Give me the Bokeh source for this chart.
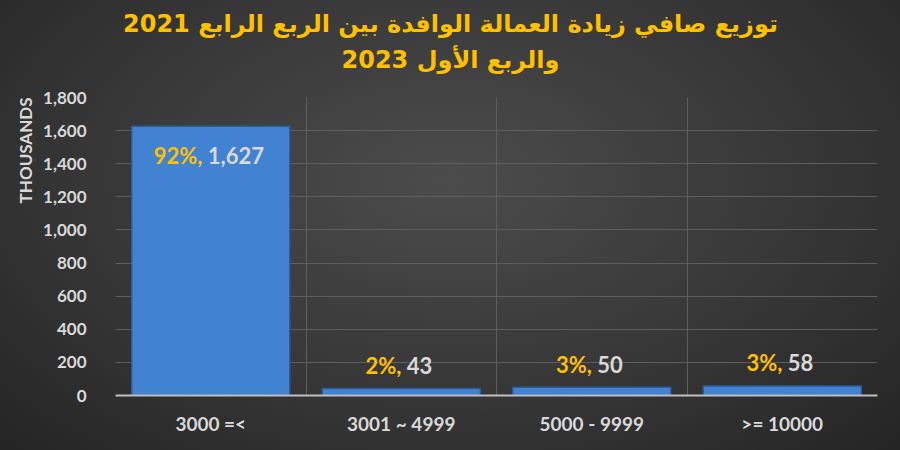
from bokeh.plotting import figure
from bokeh.models import ColumnDataSource, FixedTicker, Title, InlineStyleSheet, NumeralTickFormatter
from bokeh.core.properties import value
from bokeh.embed import file_html
from bokeh.resources import INLINE

# Net increase of expatriate workers by wage band (thousands)
categories = ["3000 =<", "3001 ~ 4999", "5000 - 9999", ">= 10000"]
workers = [1627, 43, 50, 58]
shares = [92, 2, 3, 3]
y_ticks = [0, 200, 400, 600, 800, 1000, 1200, 1400, 1600, 1800]

title_line1 = "توزيع صافي زيادة العمالة الوافدة بين الربع الرابع 2021"
title_line2 = "والربع الأول 2023"

GOLD = "#FFC000"
LIGHT = "#D9D9D9"
FONT = "Lato"

W, H = 900, 450
LEFT, RIGHT = 115, 23

xs = list(range(len(categories)))
pct_txt = [f"{s}%, " for s in shares]
val_txt = [f"{v:,}" for v in workers]

# label sits inside the tall bar, above the short ones
inside = [v > 300 for v in workers]
y_off = [29 if i else -23 for i in inside]

# approximate text widths so the two-colour label is centred on the bar
def text_w(s):
    w = 0
    for ch in s:
        if ch.isdigit():
            w += 12
        elif ch == "%":
            w += 19
        else:
            w += 5
    return w

x_off = [(text_w(a) - text_w(b)) / 2 - 3 for a, b in zip(pct_txt, val_txt)]

src = ColumnDataSource(dict(x=xs, top=workers, pct=pct_txt, val=val_txt,
                            yo=y_off, xo=x_off))

p = figure(width=W, height=H, output_backend="svg", toolbar_location=None,
           x_range=(-0.5, len(categories) - 0.5), y_range=(0, 1800),
           min_border_left=LEFT, min_border_right=RIGHT, min_border_bottom=55,
           min_border_top=97, title=None)

# gap between the frame and the title block
p.add_layout(Title(text=" ", text_font_size="1px", standoff=21), "above")

# two-line title centred on the whole canvas (approx. rendered widths)
for txt, tw, so in ((title_line2, 218, 0), (title_line1, 655, 12)):
    p.add_layout(Title(text=txt, align="left", offset=W / 2 - LEFT - tw / 2,
                       text_color=GOLD, text_font="DejaVu Sans",
                       text_font_size="24px", text_font_style="bold",
                       standoff=so), "above")

p.background_fill_alpha = 0
p.border_fill_alpha = 0
p.outline_line_color = None
p.stylesheets = [InlineStyleSheet(css=":host { background: radial-gradient(ellipse 75% 90% at 50% 40%, #4c4c4c 0%, #363636 55%, #222222 100%); }")]

p.vbar(x="x", top="top", width=0.83, source=src, fill_color="#4282D3",
       line_color="#2C5B96", line_width=1.5)

p.text(x="x", y="top", text="pct", source=src, x_offset="xo", y_offset="yo",
       text_align="right", text_baseline="middle", text_color=GOLD,
       text_font=value(FONT), text_font_style="bold", text_font_size="22px")
p.text(x="x", y="top", text="val", source=src, x_offset="xo", y_offset="yo",
       text_align="left", text_baseline="middle", text_color=LIGHT,
       text_font=value(FONT), text_font_style="bold", text_font_size="22px")

# axes
p.xaxis.ticker = FixedTicker(ticks=xs)
p.xaxis.major_label_overrides = {i: c for i, c in enumerate(categories)}
p.xaxis.major_label_text_font = FONT
p.xaxis.major_label_text_font_style = "bold"
p.xaxis.major_label_text_font_size = "19px"
p.xaxis.major_label_text_color = LIGHT
p.xaxis.major_label_standoff = 10
p.xaxis.major_tick_line_color = None
p.xaxis.minor_tick_line_color = None
p.xaxis.axis_line_color = "#BFBFBF"
p.xaxis.axis_line_width = 2

p.yaxis.ticker = FixedTicker(ticks=y_ticks)
p.yaxis.formatter = NumeralTickFormatter(format="0,0")
p.yaxis.major_label_text_font = FONT
p.yaxis.major_label_text_font_style = "bold"
p.yaxis.major_label_text_font_size = "17px"
p.yaxis.major_label_text_color = LIGHT
p.yaxis.major_label_standoff = 23
p.yaxis.major_tick_line_color = None
p.yaxis.minor_tick_line_color = None
p.yaxis.axis_line_color = None

# unit label set on the left, pushed to the top end of the axis
p.add_layout(Title(text="THOUSANDS", align="right", text_color=LIGHT,
                   text_font=FONT, text_font_size="17px",
                   text_font_style="bold", standoff=9), "left")

# grid: horizontal at ticks, vertical at category boundaries
p.ygrid.ticker = FixedTicker(ticks=y_ticks)
p.ygrid.grid_line_color = "#5E5E5E"
p.xgrid.ticker = FixedTicker(ticks=[i - 0.5 for i in range(len(categories) + 1)])
p.xgrid.grid_line_color = "#5E5E5E"

open("out.html", "w").write(file_html(p, INLINE))
